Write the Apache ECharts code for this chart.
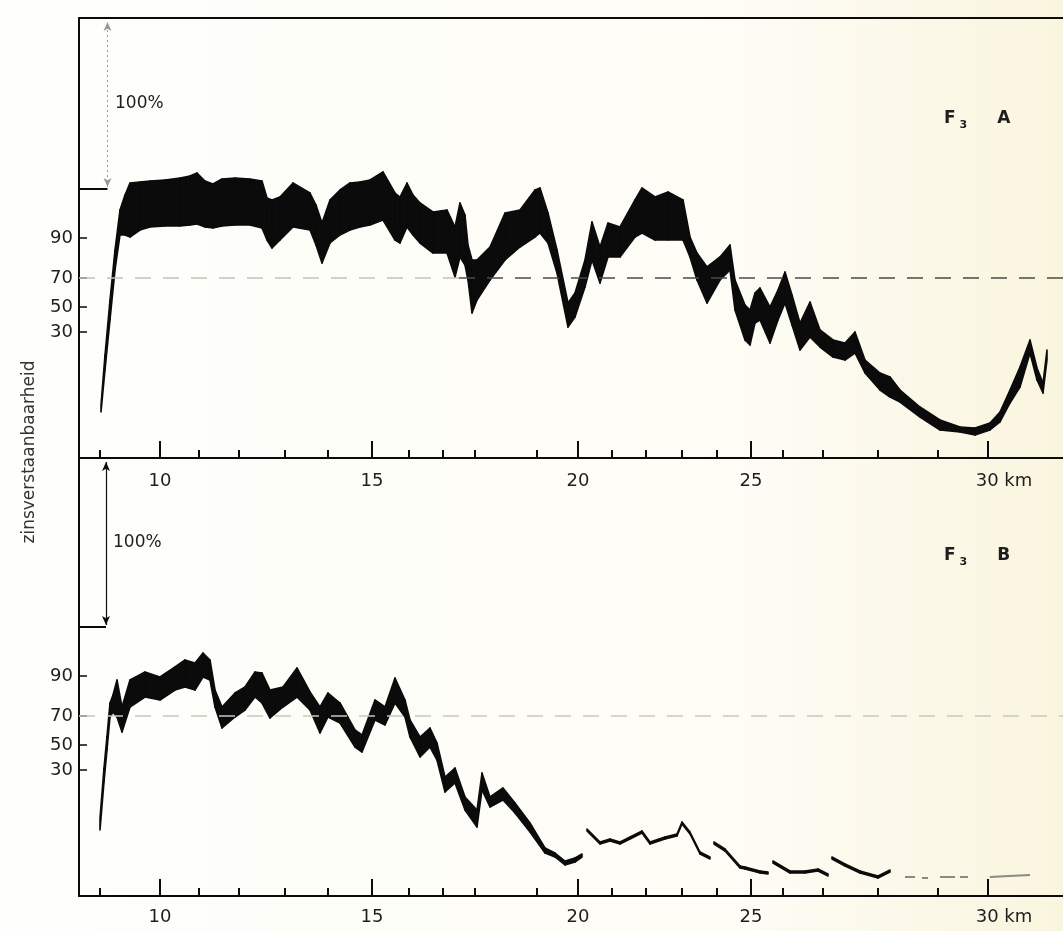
<!DOCTYPE html>
<html>
<head>
<meta charset="utf-8">
<script src="https://cdn.jsdelivr.net/npm/echarts@6/dist/echarts.min.js"></script>
<style>
html,body{margin:0;padding:0;background:#fdfcf6;}
#chart{width:1063px;height:931px;}
</style>
</head>
<body>
<div id="chart"></div>
<script>
// ---- x axis: km markers along the recording strip (paper position, cm) ----
const kmValues   = [10, 11, 12, 13, 14, 15, 16, 17, 18, 19, 20, 21, 22, 23, 24, 25, 26, 27, 28, 29, 30];
const kmPaperPos = [8.1, 12.0, 16.0, 20.6, 24.9, 29.3, 33.0, 36.4, 39.6, 45.8, 49.9, 53.3, 56.7, 60.3, 63.8, 67.2, 70.4, 74.4, 79.9, 85.9, 90.9];
const startMarkPos = 2.1;

// ---- y axis: intelligibility labels on the recorder scale ----
const pctLabels = ['30', '50', '70', '90'];
const pctLevels = [12.6, 15.1, 18.0, 22.0];
const fullScaleLevel = 26.9;   // 100 %
const thresholdLevel = 18.0;   // 70 %

// ---- F3 A (upper panel): band envelope ----
const posA  = [2.2, 2.6, 3.1, 3.6, 4.1, 4.6, 5.1, 6.1, 7.1, 8.6, 10.1, 11.1, 11.8, 12.6, 13.4, 14.3, 15.6, 17.1, 18.3, 18.8, 19.3, 20.1, 21.4, 23.1, 23.7, 24.3, 25.1, 26.1, 27.1, 28.1, 29.1, 30.4, 31.6, 32.1, 32.8, 33.4, 34.1, 35.4, 36.8, 37.6, 38.1, 38.6, 38.9, 39.3, 39.8, 41.1, 42.6, 44.1, 45.6, 46.1, 46.9, 47.8, 48.9, 49.6, 50.6, 51.3, 52.1, 52.9, 54.1, 55.6, 56.3, 57.6, 58.9, 60.4, 61.1, 61.8, 62.8, 64.1, 65.1, 65.6, 66.6, 67.1, 67.6, 68.1, 69.1, 69.9, 70.6, 71.3, 72.1, 73.1, 74.1, 75.4, 76.6, 77.6, 78.6, 80.1, 81.1, 82.1, 84.1, 86.1, 88.1, 89.6, 91.1, 92.1, 93.1, 94.1, 95.1, 95.8, 96.4, 96.8];
const lowA  = [4.6, 8.8, 13.8, 18.8, 22.3, 22.3, 22.1, 22.8, 23.1, 23.2, 23.2, 23.3, 23.4, 23.1, 23.0, 23.2, 23.3, 23.3, 23.0, 21.8, 21.0, 21.8, 23.1, 22.8, 21.3, 19.5, 21.5, 22.3, 22.8, 23.1, 23.3, 23.8, 21.8, 21.5, 23.1, 22.3, 21.5, 20.5, 20.5, 18.1, 20.1, 19.3, 17.8, 14.5, 15.8, 17.8, 19.8, 21.1, 22.1, 22.5, 21.5, 18.5, 13.1, 14.1, 17.1, 19.8, 17.5, 20.1, 20.1, 22.1, 22.5, 21.8, 21.8, 21.8, 20.1, 17.8, 15.5, 17.8, 18.8, 14.8, 11.8, 11.3, 13.5, 13.8, 11.5, 13.8, 15.5, 13.3, 10.8, 12.1, 11.1, 10.1, 9.8, 10.5, 8.5, 6.8, 6.1, 5.6, 4.1, 2.8, 2.6, 2.3, 2.8, 3.6, 5.5, 7.1, 10.5, 7.8, 6.5, 9.8];
const highA = [5.3, 10.3, 15.8, 20.8, 24.8, 26.3, 27.5, 27.6, 27.7, 27.8, 28.0, 28.2, 28.5, 27.7, 27.4, 27.9, 28.0, 27.9, 27.7, 26.0, 25.8, 26.1, 27.5, 26.5, 25.3, 23.5, 25.8, 26.8, 27.5, 27.6, 27.8, 28.6, 26.5, 26.1, 27.5, 26.3, 25.5, 24.6, 24.8, 23.1, 25.5, 24.3, 21.3, 19.8, 19.8, 21.1, 24.5, 24.8, 26.8, 27.0, 24.5, 20.8, 15.5, 16.5, 19.8, 23.6, 21.1, 23.5, 23.1, 25.8, 27.0, 26.1, 26.6, 25.8, 22.1, 20.5, 19.1, 20.1, 21.3, 17.8, 15.3, 14.8, 16.5, 17.0, 15.1, 16.8, 18.6, 16.3, 13.5, 15.6, 12.8, 11.8, 11.5, 12.6, 9.8, 8.5, 8.1, 6.8, 5.1, 3.8, 3.1, 3.0, 3.5, 4.6, 6.8, 9.1, 11.8, 9.0, 7.5, 10.8];

// ---- F3 B (lower panel): band envelope, null = gap in the trace ----
const posB  = [2.1, 2.5, 2.8, 3.1, 3.4, 3.8, 4.3, 5.1, 6.6, 8.1, 9.6, 10.6, 11.6, 12.4, 13.1, 13.6, 14.3, 15.6, 16.6, 17.6, 18.3, 19.1, 20.4, 21.8, 23.1, 24.1, 24.9, 26.1, 27.6, 28.3, 29.6, 30.6, 31.6, 32.6, 33.1, 34.1, 35.1, 35.8, 36.6, 37.6, 38.6, 39.8, 40.3, 41.1, 42.4, 43.6, 45.1, 46.6, 47.6, 48.6, 49.6, 50.3, 50.55, 50.8, 52.1, 53.1, 54.1, 55.1, 56.3, 57.1, 58.6, 59.8, 60.3, 61.1, 62.1, 63.1, 63.3, 63.5, 64.6, 66.1, 66.6, 68.1, 68.9, 69.15, 69.4, 71.1, 72.6, 73.9, 74.9, 75.1, 75.3, 76.6, 78.1, 79.9, 81.1];
const lowB  = [6.6, 11.4, 14.6, 17.9, 18.4, 17.9, 16.4, 18.9, 19.9, 19.6, 20.6, 20.9, 20.6, 21.9, 21.6, 18.9, 16.8, 17.9, 18.6, 19.9, 19.3, 17.8, 18.9, 19.9, 18.6, 16.3, 17.9, 17.3, 14.9, 14.4, 17.6, 17.1, 19.3, 17.9, 15.9, 13.9, 14.9, 13.6, 10.4, 11.3, 8.6, 6.9, 10.6, 8.9, 9.6, 8.3, 6.4, 4.3, 3.9, 3.1, 3.4, 3.9, null, 6.5, 5.2, 5.5, 5.2, 5.7, 6.3, 5.2, 5.7, 6.0, 7.2, 6.2, 4.2, 3.7, null, 5.2, 4.5, 2.8, 2.7, 2.3, 2.2, null, 3.3, 2.3, 2.3, 2.5, 2.0, null, 3.7, 3.0, 2.3, 1.8, 2.4];
const highB = [7.8, 12.8, 16.0, 19.3, 20.1, 21.6, 18.9, 21.6, 22.4, 21.9, 22.9, 23.6, 23.3, 24.3, 23.6, 20.6, 18.9, 20.3, 20.9, 22.4, 22.3, 20.6, 20.9, 22.8, 20.4, 18.9, 20.3, 19.3, 16.6, 16.1, 19.6, 18.9, 21.8, 19.6, 17.6, 15.9, 16.8, 15.3, 11.9, 12.8, 9.9, 8.6, 12.3, 9.9, 10.8, 9.3, 7.3, 4.8, 4.3, 3.5, 3.8, 4.2, null, 6.7, 5.4, 5.7, 5.4, 5.9, 6.5, 5.4, 5.9, 6.2, 7.4, 6.4, 4.4, 3.9, null, 5.4, 4.7, 3.0, 2.9, 2.5, 2.4, null, 3.5, 2.5, 2.5, 2.7, 2.2, null, 3.9, 3.2, 2.5, 2.0, 2.6];
// faint, broken tail of F3 B
const posBfaint = [82.6, 83.6, 84.0, 84.3, 84.9, 85.5, 86.1, 87.6, 87.9, 88.1, 88.9, 90.0, 91.1, 93.0, 95.1];
const valBfaint = [1.9, 1.9, null, 1.8, 1.8, null, 1.9, 1.9, null, 1.9, 1.9, null, 1.9, 2.0, 2.1];

const ink = '#0b0b0b';
const textInk = '#1e1e1e';
const xMax = 98.4;
const dashSplitA = 38;   // where the 70 % line of panel A turns from faint to dark
const font = 'DejaVu Sans';

function nearestLabel(v, levels, labels) {
  let best = 0;
  for (let i = 1; i < levels.length; i++) if (Math.abs(levels[i] - v) < Math.abs(levels[best] - v)) best = i;
  return labels[best];
}
const majorPos = kmPaperPos.filter((p, i) => kmValues[i] % 5 === 0);
const majorKm  = kmValues.filter(k => k % 5 === 0);
const minorPos = [startMarkPos].concat(kmPaperPos.filter((p, i) => kmValues[i] % 5 !== 0));

function xLabelFormatter(v) {
  const k = nearestLabel(v, majorPos, majorKm);
  return k === 30 ? '{k|30 km}' : '{n|' + k + '}';
}

function majorXAxis(gridIndex, margin) {
  return {
    type: 'value', gridIndex, min: 0, max: xMax, position: 'bottom',
    axisLine: { show: true, onZero: false, lineStyle: { color: ink, width: 2 } },
    axisTick: { show: true, inside: true, length: 17, customValues: majorPos, lineStyle: { color: ink, width: 2 } },
    axisLabel: {
      show: true, customValues: majorPos, margin, formatter: xLabelFormatter,
      rich: {
        n: { fontFamily: font, fontSize: 18, color: textInk },
        k: { fontFamily: font, fontSize: 18, color: textInk, padding: [0, 0, 0, 32] }
      }
    },
    splitLine: { show: false }
  };
}
function minorXAxis(gridIndex) {
  return {
    type: 'value', gridIndex, min: 0, max: xMax, position: 'bottom',
    axisLine: { show: false },
    axisTick: { show: true, inside: true, length: 8, customValues: minorPos, lineStyle: { color: ink, width: 2 } },
    axisLabel: { show: false },
    splitLine: { show: false }
  };
}
function yAxis(gridIndex, max) {
  return {
    type: 'value', gridIndex, min: 0, max,
    axisLine: { show: true, onZero: false, lineStyle: { color: ink, width: 2 } },
    axisTick: { show: true, inside: true, length: 8, customValues: pctLevels, lineStyle: { color: ink, width: 1.5 } },
    axisLabel: {
      show: true, customValues: pctLevels, margin: 6,
      fontFamily: font, fontSize: 18, color: textInk,
      formatter: v => nearestLabel(v, pctLevels, pctLabels)
    },
    splitLine: { show: false }
  };
}

// band drawn as quads between consecutive envelope samples
function bandSeries(id, xi, yi, pos, low, high) {
  const rows = pos.map((p, i) => [p, low[i], high[i]]);
  return {
    type: 'custom', id, xAxisIndex: xi, yAxisIndex: yi, silent: true, z: 3,
    encode: { x: 0, y: [1, 2] },
    data: rows,
    renderItem: function (params, api) {
      const i = params.dataIndex;
      if (i >= rows.length - 1) return null;
      const a = rows[i], b = rows[i + 1];
      if (a[1] == null || b[1] == null) return null;
      const pts = [api.coord([a[0], a[1]]), api.coord([b[0], b[1]]), api.coord([b[0], b[2]]), api.coord([a[0], a[2]])];
      return { type: 'polygon', shape: { points: pts },
               style: { fill: ink, stroke: ink, lineWidth: 1.6, lineJoin: 'round' } };
    }
  };
}

function annotations(threshSegments, arrowX, arrowTop, arrowStyle) {
  const data = threshSegments.map(s => [
    { coord: [s.from, thresholdLevel], lineStyle: { color: s.color, width: 1.6, type: [16, 12] } },
    { coord: [s.to, thresholdLevel] }
  ]);
  data.push(
    [{ coord: [0, fullScaleLevel], lineStyle: { color: ink, width: 2, type: 'solid' } },
     { coord: [arrowX, fullScaleLevel] }],
    [{ coord: [arrowX, fullScaleLevel + 0.2], symbol: 'arrow', symbolSize: [6, 9], lineStyle: arrowStyle },
     { coord: [arrowX, arrowTop], symbol: 'arrow', symbolSize: [6, 9] }]
  );
  return { silent: true, symbol: ['none', 'none'], label: { show: false }, animation: false, data };
}

function panelTag(x, y, letter) {
  return { type: 'text', x, y, silent: true,
    style: { text: '{f|F}{s|3}{g|' + letter + '}', textVerticalAlign: 'middle',
      rich: { f: { fontFamily: font, fontSize: 17, fontWeight: 'bold', fill: textInk },
              s: { fontFamily: font, fontSize: 11, fontWeight: 'bold', fill: textInk, padding: [12, 0, 0, 4] },
              g: { fontFamily: font, fontSize: 17, fontWeight: 'bold', fill: textInk, padding: [0, 0, 0, 30] } } } };
}

const option = {
  animation: false,
  backgroundColor: 'transparent',
  graphic: [
    { type: 'rect', z: -10, silent: true, shape: { x: 0, y: 0, width: 1063, height: 931 },
      style: { fill: { type: 'linear', x: 0, y: 0, x2: 1, y2: 0, colorStops: [
        { offset: 0, color: '#fefefb' }, { offset: 0.7, color: '#fdfcf5' }, { offset: 1, color: '#faf5de' }] } } },
    { type: 'text', x: 30, y: 452, rotation: Math.PI / 2, silent: true,
      style: { text: 'zinsverstaanbaarheid', fontFamily: font, fontSize: 17, fill: '#333',
               textAlign: 'center', textVerticalAlign: 'middle' } },
    { type: 'text', x: 115, y: 104, silent: true,
      style: { text: '100%', fontFamily: font, fontSize: 17, fill: textInk, textVerticalAlign: 'middle' } },
    { type: 'text', x: 113, y: 543, silent: true,
      style: { text: '100%', fontFamily: font, fontSize: 17, fill: textInk, textVerticalAlign: 'middle' } },
    panelTag(944, 119, 'A'),
    panelTag(944, 556, 'B')
  ],
  grid: [
    { left: 79, right: 0, top: 18, height: 440 },
    { left: 79, right: 0, top: 458, height: 438 }
  ],
  xAxis: [
    majorXAxis(0, 14),
    minorXAxis(0),
    { type: 'value', gridIndex: 0, min: 0, max: xMax, position: 'top',
      axisLine: { show: true, onZero: false, lineStyle: { color: ink, width: 2 } },
      axisTick: { show: false }, axisLabel: { show: false }, splitLine: { show: false } },
    majorXAxis(1, 12),
    minorXAxis(1)
  ],
  yAxis: [yAxis(0, 44.0), yAxis(1, 43.8)],
  series: [
    { type: 'line', id: 'annotA', xAxisIndex: 0, yAxisIndex: 0, data: [], silent: true,
      markLine: annotations(
        [{ from: 0, to: dashSplitA, color: '#c4c4bc' }, { from: dashSplitA, to: xMax, color: '#4a4a4a' }],
        2.85, 43.6, { color: '#999', width: 1, type: [2, 3] }) },
    bandSeries('A', 0, 0, posA, lowA, highA),
    bandSeries('B', 3, 1, posB, lowB, highB),
    { type: 'line', id: 'Bfaint', xAxisIndex: 3, yAxisIndex: 1,
      data: posBfaint.map((p, i) => [p, valBfaint[i]]),
      symbol: 'none', connectNulls: false, silent: true,
      lineStyle: { color: '#8a8a84', width: 2 }, z: 3,
      markLine: annotations([{ from: 0, to: xMax, color: '#c8c8c0' }],
        2.7, 43.4, { color: ink, width: 1.2, type: 'solid' }) }
  ]
};

const chart = echarts.init(document.getElementById('chart'), null, { renderer: 'canvas' });
chart.setOption(option);
</script>
</body>
</html>
